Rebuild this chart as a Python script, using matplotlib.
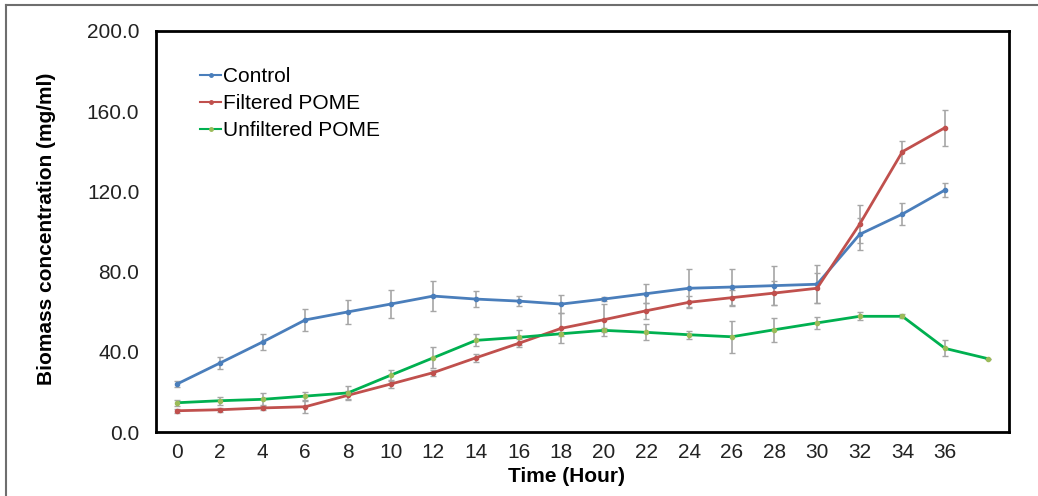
import numpy as np
import matplotlib
matplotlib.use("Agg")
import matplotlib.pyplot as plt
from matplotlib.lines import Line2D

plt.rcParams['font.family'] = ['Liberation Sans', 'DejaVu Sans']

# hours (last category has no label)
hours = ['0', '2', '4', '6', '8', '10', '12', '14', '16', '18',
         '20', '22', '24', '26', '28', '30', '32', '34', '36', '']

control = [24.0, 34.4, 44.9, 55.9, 59.9, 63.8, 67.8, 66.3, 65.3, 63.8,
           66.3, 69.0, 71.7, 72.3, 73.0, 73.7, 98.6, 108.7, 120.7]
control_err = [1.5, 2.9, 4.0, 5.3, 5.9, 6.9, 7.7, 3.8, 2.7, 4.5,
               1.0, 4.7, 9.5, 9.0, 9.7, 9.5, 8.0, 5.5, 3.5]

filtered = [10.6, 11.1, 12.0, 12.6, 18.3, 23.9, 29.6, 37.0, 44.2, 51.7,
            56.0, 60.5, 64.7, 67.0, 69.3, 71.7, 103.7, 139.8, 151.8]
filtered_err = [1.0, 1.0, 1.0, 3.0, 2.0, 2.0, 1.5, 2.0, 2.0, 7.5,
                8.0, 4.0, 3.0, 4.0, 6.0, 7.5, 9.5, 5.5, 9.0]

unfiltered = [14.6, 15.6, 16.3, 17.9, 19.5, 28.3, 37.0, 45.7, 47.2, 49.0,
              50.7, 49.7, 48.5, 47.5, 51.0, 54.4, 57.7, 57.7, 41.7, 36.6]
unfiltered_err = [1.5, 2.0, 3.0, 2.0, 3.5, 2.8, 5.3, 3.0, 3.9, 1.0,
                  1.0, 4.0, 2.0, 8.0, 6.0, 2.9, 2.0, 1.0, 4.0, 0.0]

W, H = 1038, 496
fig = plt.figure(figsize=(W / 100, H / 100), dpi=100)
ax = fig.add_axes([156 / W, (H - 432) / H, (1009 - 156) / W, (432 - 31) / H])

series = [
    ('Control', control, control_err, '#4a7ebb', '#4a7ebb'),
    ('Filtered POME', filtered, filtered_err, '#c0504d', '#c0504d'),
    ('Unfiltered POME', unfiltered, unfiltered_err, '#00b050', '#9bbb59'),
]

handles = []
for name, vals, errs, col, mcol in series:
    x = np.arange(len(vals))
    ax.errorbar(x, vals, yerr=errs, fmt='none', ecolor='#a6a6a6',
                elinewidth=1.2, capsize=2.5, capthick=1.0, zorder=2)
    ax.plot(x, vals, color=col, lw=2, marker='o', ms=3,
            mfc=mcol, mec=mcol, zorder=3)
    handles.append(Line2D([0], [0], color=col, lw=1.5, marker='o', ms=2.5,
                          mfc=mcol, mec=mcol, label=name))

ax.set_xlim(-0.5, len(hours) - 0.5)
ax.set_ylim(0, 200)
ax.set_xticks(np.arange(len(hours)))
ax.set_xticklabels(hours)
ax.set_yticks(np.arange(0, 201, 40))
ax.set_yticklabels(['%.1f' % v for v in np.arange(0, 201, 40)])
ax.tick_params(length=0, labelsize=15, colors='#222222', pad=8)
ax.tick_params(axis='y', pad=12)
for s in ax.spines.values():
    s.set_linewidth(2)
    s.set_color('black')

fig.text(47 / W, 1 - 229 / H, 'Biomass concentration (mg/ml)', rotation=90,
         ha='center', va='center', fontsize=15, fontweight='bold')
fig.text(567 / W, 1 - 476 / H, 'Time (Hour)', ha='center', va='center',
         fontsize=15, fontweight='bold')

leg = ax.legend(handles=handles, loc='upper left', bbox_to_anchor=(0.042, 0.93),
                frameon=False, fontsize=15, handlelength=1.0, handletextpad=0.08,
                labelspacing=0.37, borderaxespad=0)

# outer frame (left and top only)
fig.add_artist(Line2D([6 / W, 6 / W], [0, 1 - 5 / H], color='#6e6e6e', lw=1.5))
fig.add_artist(Line2D([6 / W, 1], [1 - 5 / H, 1 - 5 / H], color='#6e6e6e', lw=1.5))

fig.savefig('out.png', dpi=100)
